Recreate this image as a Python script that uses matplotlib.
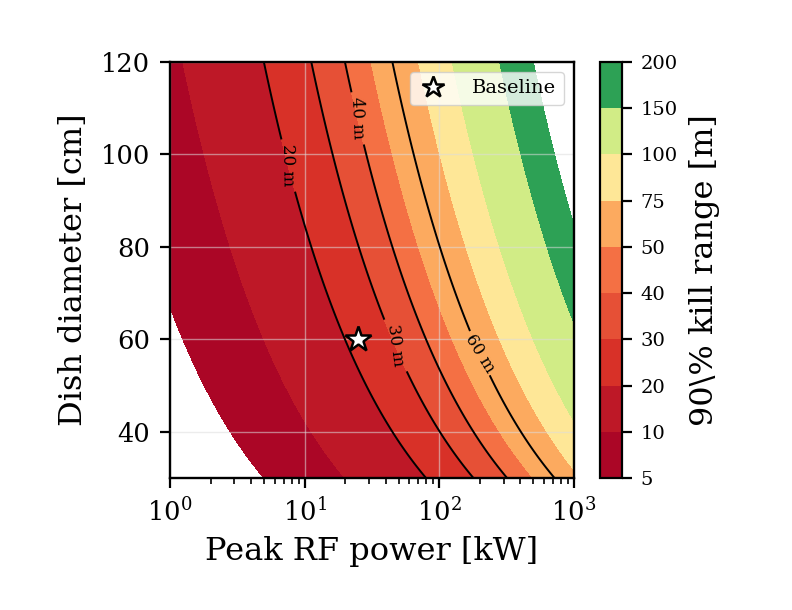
import numpy as np
import matplotlib
matplotlib.use("Agg")
import matplotlib.pyplot as plt

plt.rcParams['font.family'] = ['DejaVu Serif']
plt.rcParams['mathtext.fontset'] = 'dejavuserif'

# ---- data ----
fill_levels = [5, 10, 20, 30, 40, 50, 75, 100, 150, 200]      # colour bands [m]
line_levels = [20, 30, 40, 60]                                   # labelled contours [m]
cbar_ticks = [5, 10, 20, 30, 40, 50, 75, 100, 150, 200]
power_range_kw = [1, 1000]
diameter_range_cm = [30, 120]
baseline_power_kw = [25]
baseline_diameter_cm = [60]
# range scaling: R = k * sqrt(P[kW]) * D[cm]
range_coeff = 0.0747

P = np.logspace(np.log10(power_range_kw[0]), np.log10(power_range_kw[1]), 400)
D = np.linspace(diameter_range_cm[0], diameter_range_cm[1], 300)
PP, DD = np.meshgrid(P, D)
R = range_coeff * np.sqrt(PP) * DD

fig = plt.figure(figsize=(7.92, 6.10), dpi=100)
ax = fig.add_axes([170/792, 1-478/610, (574-170)/792, (478-62)/610])
cax = fig.add_axes([600/792, 1-478/610, 22/792, (478-62)/610])

cf = ax.contourf(PP, DD, R, levels=fill_levels, cmap='RdYlGn')
cs = ax.contour(PP, DD, R, levels=line_levels, colors='black', linewidths=1.4)
manual = [(7.8, 97.6), (51, 58.7), (24.9, 107.8), (214, 57.6)]
ax.clabel(cs, fmt='%d m', fontsize=12, inline=True, manual=manual)

ax.plot(baseline_power_kw, baseline_diameter_cm, marker='*', ms=19,
        mfc='white', mec='black', mew=1.8, ls='none', label='Baseline', zorder=5)

ax.set_xscale('log')
ax.set_xlim(*power_range_kw)
ax.set_ylim(*diameter_range_cm)
ax.set_yticks([40, 60, 80, 100, 120])
ax.grid(True, which='major', color='#dddddd', alpha=0.55, linewidth=1.0)
ax.tick_params(axis='both', which='major', labelsize=18.5, length=7.5, width=1.6, pad=7)
ax.tick_params(axis='x', which='minor', length=4.5, width=1.2)
for s in ax.spines.values():
    s.set_linewidth(1.7)
ax.set_xlabel('Peak RF power [kW]', fontsize=23, labelpad=7)
ax.set_ylabel('Dish diameter [cm]', fontsize=23, labelpad=8)

leg = ax.legend(loc='upper right', fontsize=14, framealpha=0.8,
                markerscale=0.85, handletextpad=1.2, borderpad=0.4,
                handlelength=1.6)

cb = fig.colorbar(cf, cax=cax, ticks=cbar_ticks)
cb.set_label('90\\% kill range [m]', fontsize=23, labelpad=8)
cb.ax.tick_params(labelsize=14, length=7.5, width=1.6, pad=6)
cb.outline.set_linewidth(1.6)

fig.savefig('out.png', dpi=100)
